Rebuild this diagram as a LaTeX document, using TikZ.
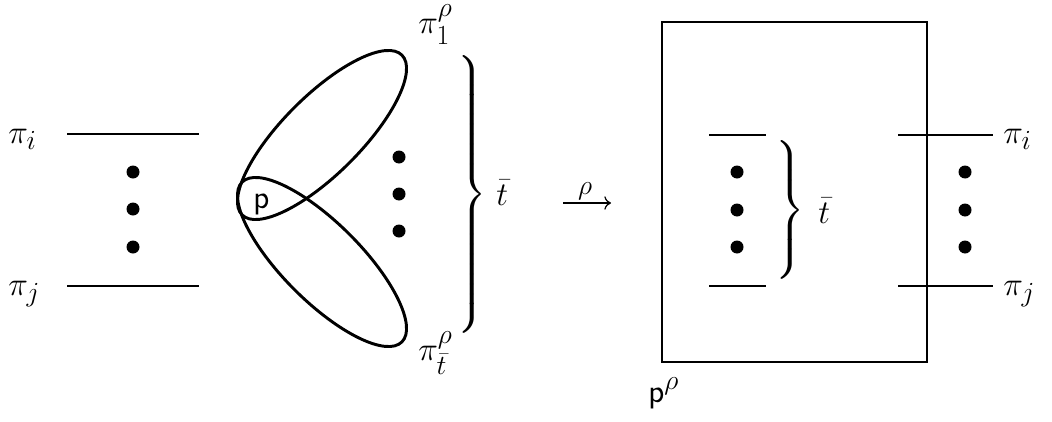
\documentclass[tikz,border=0pt]{standalone}
\usepackage{amsmath}
\usetikzlibrary{arrows.meta}
\delimiterfactor=1000
\delimitershortfall=0pt
\begin{document}
\begin{tikzpicture}[x=0.75pt,y=-0.75pt,font=\fontsize{24.88}{30}\selectfont]
\tikzset{
  dot/.style={circle,fill=black,inner sep=0pt,minimum size=9.75pt},
  lbl/.style={inner sep=0pt,anchor=base west},
  wire/.style={line width=2.2pt},
  bracebox/.style={inner sep=0pt,anchor=west},
  maparrow/.style={line width=0.9pt,-{To[length=5pt,width=10pt]}},
}
\useasboundingbox (0,0) rectangle (1052,421);
% left part
\coordinate (Lia) at (67,134); \coordinate (Lib) at (199,134);
\coordinate (Lja) at (67,286); \coordinate (Ljb) at (199,286);
\draw[wire] (Lia) -- (Lib);
\draw[wire] (Lja) -- (Ljb);
\node[lbl] (piiL) at (8,143) {$\pi_i$};
\node[lbl] (pijL) at (8,295) {$\pi_j$};
\node[dot] (ld1) at (133,172) {};
\node[dot] (ld2) at (133,209) {};
\node[dot] (ld3) at (133,247) {};
% ellipses
\coordinate (E1) at (322,135);
\coordinate (E2) at (322,262);
\draw[wire,rotate around={45:(E1)}] (E1) ellipse [x radius=113,y radius=39];
\draw[wire,rotate around={-45:(E2)}] (E2) ellipse [x radius=113,y radius=39];
\node[lbl] (p) at (253,208) {$\mathsf{p}$};
\node[dot] (md1) at (399,157) {};
\node[dot] (md2) at (399,194) {};
\node[dot] (md3) at (399,231) {};
\node[bracebox] (br1) at (456,194.5) {$\left.\vcenter{\hbox{\rule{0pt}{205pt}}}\right\}$};
\node[lbl] (tb1) at (496,205) {$\bar t$};
\node[lbl] (pi1) at (418,33) {$\pi_1^\rho$};
\node[lbl] (pit) at (418,360) {$\pi_{\bar t}^\rho$};
% arrow
\coordinate (A1) at (563,203); \coordinate (A2) at (611,203);
\draw[maparrow] (A1) -- (A2);
\node[inner sep=0pt,anchor=base] (rho) at (585,194) {$\scriptstyle\rho$};
% right part
\coordinate (B1) at (662,22); \coordinate (B2) at (927,362);
\draw[wire] (B1) rectangle (B2);
\coordinate (Ia) at (709,135); \coordinate (Ib) at (766,135);
\coordinate (Ic) at (709,286); \coordinate (Id) at (766,286);
\draw[wire] (Ia) -- (Ib);
\draw[wire] (Ic) -- (Id);
\node[dot] (id1) at (737,172) {};
\node[dot] (id2) at (737,210) {};
\node[dot] (id3) at (737,247) {};
\node[bracebox] (br2) at (774,210) {$\left.\vcenter{\hbox{\rule{0pt}{100.5pt}}}\right\}$};
\node[lbl] (tb2) at (818,223) {$\bar t$};
\coordinate (Ra) at (898,135); \coordinate (Rb) at (993,135);
\coordinate (Rc) at (898,286); \coordinate (Rd) at (993,286);
\draw[wire] (Ra) -- (Rb);
\draw[wire] (Rc) -- (Rd);
\node[dot] (rd1) at (965,172) {};
\node[dot] (rd2) at (965,210) {};
\node[dot] (rd3) at (965,247) {};
\node[lbl] (piiR) at (1003,143) {$\pi_i$};
\node[lbl] (pijR) at (1003,295) {$\pi_j$};
\node[lbl] (prho) at (648,402) {$\mathsf{p}^\rho$};
\end{tikzpicture}
\end{document}
